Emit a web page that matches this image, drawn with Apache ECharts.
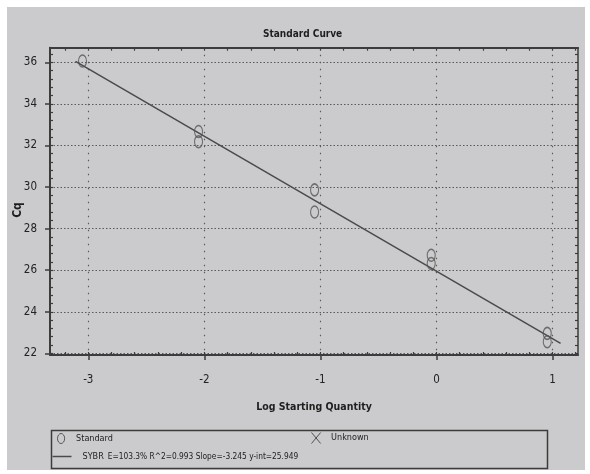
<!DOCTYPE html>
<html>
<head>
<meta charset="utf-8">
<script src="https://cdn.jsdelivr.net/npm/echarts@6/dist/echarts.min.js"></script>
<style>
html,body{margin:0;padding:0;background:#ffffff;width:590px;height:474px;overflow:hidden;}
#chart{position:absolute;left:7px;top:7px;width:578px;height:463px;}
</style>
</head>
<body>
<div id="chart"></div>
<script>
// ---- data ----
const xTickLabels = [-3, -2, -1, 0, 1];
const yTickLabels = [22, 24, 26, 28, 30, 32, 34, 36];
const stdLogQty = [-3.05, -2.05, -2.05, -1.05, -1.05, -0.045, -0.045, 0.955, 0.955];
const stdCq = [36.06, 32.67, 32.18, 29.86, 28.80, 26.72, 26.32, 22.96, 22.56];
const fitLogQty = [-3.11, 1.07];
const fitCq = [36.04, 22.48];
const seriesNames = ['Standard', 'Unknown', 'SYBR'];
const fitStats = 'E=103.3% R^2=0.993 Slope=-3.245 y-int=25.949';
const xRange = [-3.33, 1.22];
const yRange = [21.92, 36.7];

const FONT = "'Liberation Sans Narrow', 'DejaVu Sans Condensed', 'Arial Narrow', sans-serif";
const AX = '#3c3c3c';

function steps(lo, hi, step) {
  const out = [];
  for (let k = Math.ceil(lo / step - 1e-9); k * step <= hi + 1e-9; k++) out.push(+(k * step).toFixed(4));
  return out;
}
const xMinor = steps(xRange[0], xRange[1], 0.2);
const yMinor = steps(yRange[0], yRange[1], 0.4);

const chart = echarts.init(document.getElementById('chart'), null, {renderer: 'canvas'});

const gridPos = {left: 43, top: 40.7, width: 528, height: 307.3};

const baseX = {type: 'value', gridIndex: 0, min: xRange[0], max: xRange[1], splitNumber: 5};
const baseY = {type: 'value', gridIndex: 0, min: yRange[0], max: yRange[1], splitNumber: 7};

const ELLIPSE = 'path://M5,0A5,7 0 1,1 5,14A5,7 0 1,1 5,0Z';
const XMARK = 'path://M0,0L10,12M10,0L0,12';

const option = {
  backgroundColor: '#cbcbcd',
  animation: false,
  textStyle: {fontFamily: FONT},
  title: {
    text: 'Standard Curve', left: 251, top: 17,
    textStyle: {fontFamily: FONT, fontSize: 10, fontWeight: 'bold', color: '#1e1e1e'}
  },
  grid: Object.assign({containLabel: false, outerBoundsMode: 'none'}, gridPos),
  xAxis: [
    Object.assign({}, baseX, {
      position: 'bottom',
      name: 'Log Starting Quantity', nameLocation: 'middle', nameGap: 47,
      nameTextStyle: {fontFamily: FONT, fontSize: 10.5, fontWeight: 'bold', color: '#1e1e1e'},
      axisLine: {onZero: false, lineStyle: {color: AX, width: 2}},
      axisTick: {show: true, customValues: xTickLabels, length: 5, inside: false, lineStyle: {color: AX, width: 1.5}},
      axisLabel: {customValues: xTickLabels, margin: 19, fontFamily: FONT, fontSize: 11.5, color: '#222'},
      splitLine: {show: true, lineStyle: {color: '#5a5a5a', width: 1.2, type: [1.5, 5.5]}}
    }),
    Object.assign({}, baseX, {
      position: 'bottom',
      axisLine: {show: false, onZero: false},
      axisTick: {show: true, customValues: xMinor, length: 3, inside: true, lineStyle: {color: AX, width: 1.2}},
      axisLabel: {show: false},
      splitLine: {show: false}
    }),
    Object.assign({}, baseX, {
      position: 'top',
      axisLine: {onZero: false, lineStyle: {color: AX, width: 2}},
      axisTick: {show: true, customValues: xMinor, length: 3, inside: true, lineStyle: {color: AX, width: 1.2}},
      axisLabel: {show: false},
      splitLine: {show: false}
    })
  ],
  yAxis: [
    Object.assign({}, baseY, {
      position: 'left',
      axisLine: {onZero: false, lineStyle: {color: AX, width: 2}},
      axisTick: {show: true, customValues: yTickLabels, length: 5, inside: false, lineStyle: {color: AX, width: 1.5}},
      axisLabel: {customValues: yTickLabels, margin: 13, fontFamily: FONT, fontSize: 11.5, color: '#222'},
      splitLine: {show: true, lineStyle: {color: '#5a5a5a', width: 1.2, type: [1.5, 2]}}
    }),
    Object.assign({}, baseY, {
      position: 'left',
      axisLine: {show: false, onZero: false},
      axisTick: {show: true, customValues: yMinor, length: 3, inside: true, lineStyle: {color: AX, width: 1.2}},
      axisLabel: {show: false},
      splitLine: {show: false}
    }),
    Object.assign({}, baseY, {
      position: 'right',
      axisLine: {onZero: false, lineStyle: {color: AX, width: 1.5}},
      axisTick: {show: true, customValues: yMinor, length: 3, inside: true, lineStyle: {color: AX, width: 1.2}},
      axisLabel: {show: false},
      splitLine: {show: false}
    })
  ],
  legend: [
    {
      data: [seriesNames[0]], left: 50, top: 426, itemWidth: 20, itemHeight: 10,
      icon: ELLIPSE,
      itemStyle: {color: 'transparent', borderColor: '#3a3a3a', borderWidth: 1},
      textStyle: {fontFamily: FONT, fontSize: 9, color: '#222'},
      padding: 0
    },
    {
      data: [seriesNames[1]], left: 304, top: 425, itemWidth: 20, itemHeight: 11,
      icon: XMARK,
      itemStyle: {color: 'transparent', borderColor: '#333', borderWidth: 1},
      textStyle: {fontFamily: FONT, fontSize: 9, color: '#222'},
      padding: 0
    },
    {
      data: [seriesNames[2]], left: 45.5, top: 445, itemWidth: 19, itemHeight: 1.5,
      icon: 'rect',
      itemStyle: {color: '#4a4a4a', borderWidth: 0},
      textStyle: {
        fontFamily: FONT, fontSize: 9, color: '#222',
        rich: {
          n: {fontFamily: FONT, fontSize: 9, color: '#222', padding: [0, 4, 0, 6]},
          s: {fontFamily: FONT, fontSize: 8.3, color: '#222'}
        }
      },
      formatter: function (n) { return '{n|' + n + '}{s|' + fitStats + '}'; },
      padding: 0
    }
  ],
  graphic: [
    {
      type: 'rect', left: 42, top: 421, z: -1,
      shape: {width: 496, height: 38},
      style: {fill: 'none', stroke: '#3c3c3c', lineWidth: 1.5}
    },
    {
      type: 'text', x: 11, y: 203, rotation: Math.PI / 2,
      style: {text: 'Cq', fontFamily: FONT, fontSize: 12, fontWeight: 'bold', fill: '#1e1e1e', align: 'center', verticalAlign: 'middle'}
    }
  ],
  series: [
    {
      name: seriesNames[0], type: 'scatter', xAxisIndex: 0, yAxisIndex: 0,
      symbol: 'circle', symbolSize: [8, 12],
      itemStyle: {color: 'transparent', borderColor: '#555', borderWidth: 1.3},
      data: stdLogQty.map((x, i) => [x, stdCq[i]]),
      z: 5
    },
    {
      name: seriesNames[1], type: 'scatter', xAxisIndex: 0, yAxisIndex: 0,
      symbol: XMARK,
      itemStyle: {color: 'transparent', borderColor: '#333', borderWidth: 1},
      data: []
    },
    {
      name: seriesNames[2], type: 'line', xAxisIndex: 0, yAxisIndex: 0,
      symbol: 'none', showSymbol: false,
      lineStyle: {color: '#4a4a4a', width: 1.5},
      itemStyle: {color: '#4a4a4a'},
      data: fitLogQty.map((x, i) => [x, fitCq[i]]),
      z: 4
    }
  ]
};
chart.setOption(option);
</script>
</body>
</html>
